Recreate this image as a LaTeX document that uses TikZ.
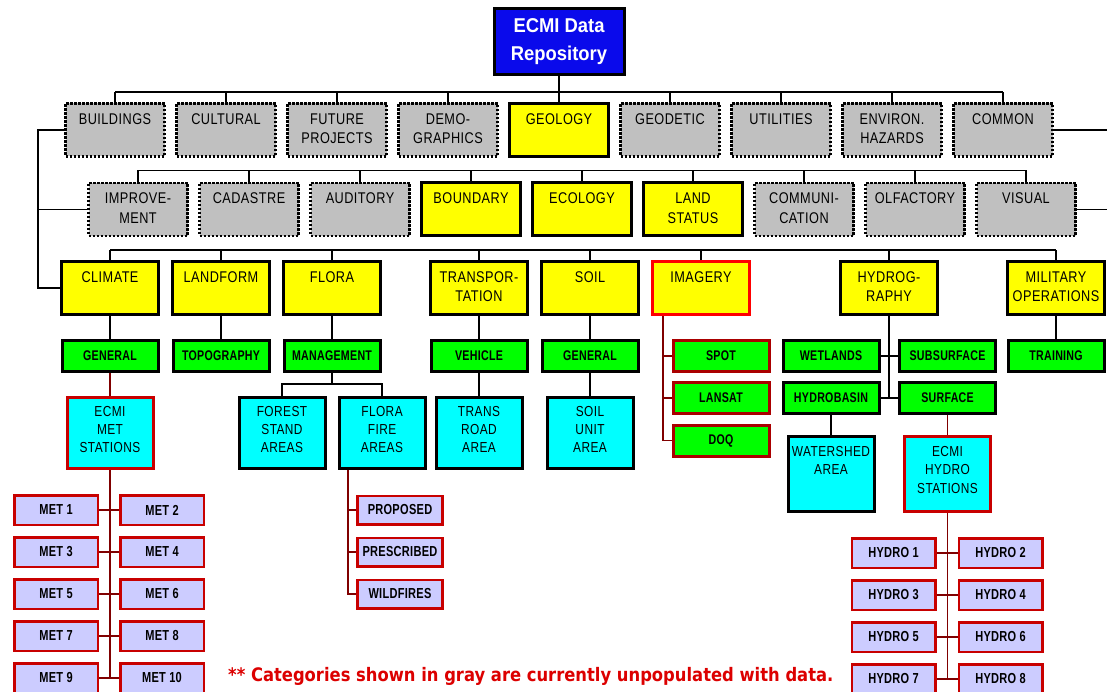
\documentclass[tikz,border=0pt]{standalone}
\usepackage{fontspec}
\setmainfont{Liberation Sans}[FakeStretch=0.82,LetterSpace=3]
\newfontfamily\rootfont{Liberation Sans}[FakeStretch=0.92]
\newfontfamily\layerfont{Liberation Sans}[FakeStretch=0.76,LetterSpace=2]
\newfontfamily\notefont{DejaVu Sans}[FakeStretch=0.88]
\usetikzlibrary{positioning}

\definecolor{ecmiblue}{RGB}{10,10,235}
\definecolor{boxgray}{RGB}{192,192,192}
\definecolor{boxyellow}{RGB}{255,255,0}
\definecolor{boxgreen}{RGB}{0,255,0}
\definecolor{boxcyan}{RGB}{0,255,255}
\definecolor{lavender}{RGB}{204,204,255}
\definecolor{stationred}{RGB}{200,0,0}
\definecolor{imgred}{RGB}{170,0,0}
\definecolor{linkred}{RGB}{128,0,0}
\definecolor{notered}{RGB}{220,0,0}

\begin{document}
\begin{tikzpicture}[x=1pt,y=-1pt,node distance=111pt,
    cbox/.style={rectangle,draw=black,line width=3pt,inner xsep=2pt,inner ysep=0pt,align=center},
    catb/.style={cbox,text width=95pt,text height=21pt,text depth=32pt,font=\fontsize{15.5}{19.3}\selectfont},
    grayb/.style={catb,fill=boxgray,line width=2.5pt,dash pattern=on 2.5pt off 1.5pt},
    yellowb/.style={catb,fill=boxyellow},
    themeb/.style={yellowb,text width=93pt},
    greenb/.style={cbox,fill=boxgreen,minimum width=96pt,minimum height=31pt,inner xsep=0pt,font=\layerfont\bfseries\fontsize{14}{16}\selectfont},
    cyanb/.style={cbox,fill=boxcyan,text width=82pt,text height=18.5pt,text depth=52.5pt,font=\fontsize{14.5}{18.3}\selectfont},
    pinkb/.style={cbox,fill=lavender,draw=stationred,line width=2.5pt,minimum width=83.5pt,minimum height=29.5pt,inner xsep=0pt,font=\layerfont\bfseries\fontsize{14.5}{16}\selectfont},
    link/.style={draw=black,line width=1.3pt},
    redlink/.style={link,draw=linkred}]
  \useasboundingbox (0,0) rectangle (1107,692);

  \node[cbox,fill=ecmiblue,minimum width=130pt,minimum height=66pt,inner sep=0pt,text=white,
        font=\rootfont\bfseries\fontsize{20}{28}\selectfont] (root) at (559,42) {ECMI Data\\Repository};

  % first level
  \node[grayb]   (bldg)     at (115,130)     {BUILDINGS};
  \node[grayb]   (cult)     [right of=bldg]  {CULTURAL};
  \node[grayb]   (future)   [right of=cult]  {FUTURE\\PROJECTS};
  \node[grayb]   (demo)     [right of=future]{DEMO-\\GRAPHICS};
  \node[yellowb] (geology)  [right of=demo]  {GEOLOGY};
  \node[grayb]   (geodetic) [right of=geology]{GEODETIC};
  \node[grayb]   (util)     [right of=geodetic]{UTILITIES};
  \node[grayb]   (environ)  [right of=util]  {ENVIRON.\\HAZARDS};
  \node[grayb]   (common)   [right of=environ]{COMMON};

  % second level
  \node[grayb]   (improve)  at (138,209.5)   {IMPROVE-\\MENT};
  \node[grayb]   (cadastre) [right of=improve]{CADASTRE};
  \node[grayb]   (auditory) [right of=cadastre]{AUDITORY};
  \node[yellowb] (boundary) [right of=auditory]{BOUNDARY};
  \node[yellowb] (ecology)  [right of=boundary]{ECOLOGY};
  \node[yellowb] (landst)   [right of=ecology]{LAND\\STATUS};
  \node[grayb]   (communi)  [right of=landst] {COMMUNI-\\CATION};
  \node[grayb]   (olfact)   [right of=communi]{OLFACTORY};
  \node[grayb]   (visual)   [right of=olfact] {VISUAL};

  % third level
  \node[themeb] (climate)   at (110,288)     {CLIMATE};
  \node[themeb] (landform)  [right of=climate]{LANDFORM};
  \node[themeb] (flora)     [right of=landform]{FLORA};
  \node[themeb] (transport) at (479,288)     {TRANSPOR-\\TATION};
  \node[themeb] (soil)      [right of=transport]{SOIL};
  \node[themeb,draw=red] (imagery) [right of=soil]{IMAGERY};
  \node[themeb] (hydrog)    at (889,288)     {HYDROG-\\RAPHY};
  \node[themeb] (military)  at (1056,288)    {MILITARY\\OPERATIONS};

  % green layers
  \node[greenb] (general)   at (110,356)     {GENERAL};
  \node[greenb] (topo)      [right of=general]{TOPOGRAPHY};
  \node[greenb] (mgmt)      [right of=topo]  {MANAGEMENT};
  \node[greenb] (vehicle)   at (479,356)     {VEHICLE};
  \node[greenb] (soilgen)   [right of=vehicle]{GENERAL};
  \node[greenb,draw=imgred] (spot)   at (721,356)  {SPOT};
  \node[greenb,draw=imgred] (lansat) at (721,398)  {LANSAT};
  \node[greenb,draw=imgred] (doq)    at (721,440.5){DOQ};
  \node[greenb] (wetlands)  at (831,356)     {WETLANDS};
  \node[greenb] (subsurf)   at (947.5,356)   {SUBSURFACE};
  \node[greenb] (hydrobasin) at (831,398)    {HYDROBASIN};
  \node[greenb] (surface)   at (947.5,398)   {SURFACE};
  \node[greenb] (training)  at (1056,356)    {TRAINING};

  % cyan areas
  \node[cyanb,draw=stationred] (metst) at (110,433) {ECMI\\MET\\STATIONS};
  \node[cyanb] (forest)     at (282,433)     {FOREST\\STAND\\AREAS};
  \node[cyanb] (firearea)   at (382,433)     {FLORA\\FIRE\\AREAS};
  \node[cyanb] (roadarea)   at (479,433)     {TRANS\\ROAD\\AREA};
  \node[cyanb] (soilarea)   at (590,433)     {SOIL\\UNIT\\AREA};
  \node[cyanb,text height=20pt,text depth=55pt] (watershed) at (831,474) {WATERSHED\\AREA};
  \node[cyanb,draw=stationred,text height=20pt,text depth=55pt] (hydrost) at (947.5,474) {ECMI\\HYDRO\\STATIONS};

  % fire types
  \node[pinkb,minimum width=85pt,minimum height=28.5pt] (proposed)   at (400,510) {PROPOSED};
  \node[pinkb,minimum width=85pt,minimum height=28.5pt] (prescribed) at (400,552) {PRESCRIBED};
  \node[pinkb,minimum width=85pt,minimum height=28.5pt] (wildfires)  at (400,594) {WILDFIRES};

  % stations
  \foreach \a/\b/\y in {1/2/510,3/4/552,5/6/594,7/8/636,9/10/678} {
    \node[pinkb] (met\a) at (56,\y)  {MET \a};
    \node[pinkb] (met\b) at (162,\y) {MET \b};
    \draw[redlink] (met\a.east) -- (met\b.west);
  }
  \foreach \a/\b/\y in {1/2/553,3/4/595,5/6/637,7/8/679} {
    \node[pinkb] (hydro\a) at (893.5,\y)  {HYDRO \a};
    \node[pinkb] (hydro\b) at (1000.5,\y) {HYDRO \b};
    \draw[redlink] (hydro\a.east) -- (hydro\b.west);
  }

  \node[anchor=base west,text=notered,inner sep=0pt,
        font=\notefont\bfseries\fontsize{18.6}{20}\selectfont] (note) at (228,681)
        {** Categories shown in gray are currently unpopulated with data.};

  % buses
  \coordinate (bus1) at (0,92);
  \coordinate (bus2) at (0,170.5);
  \coordinate (bus3) at (0,250);
  \coordinate (bus5) at (0,384);
  \coordinate (lft) at (38,0);
  \coordinate (rgt) at (1107,0);
  \coordinate (firex) at (348,0);
  \coordinate (imgx) at (663,0);

  \draw[link] (root) -- (geology);
  \draw[link] (bldg.north |- bus1) -- (common.north |- bus1);
  \foreach \n in {bldg,cult,future,demo,geodetic,util,environ,common}
    \draw[link] (\n.north) -- (\n.north |- bus1);
  \draw[link] (improve.north |- bus2) -- (visual.north |- bus2);
  \foreach \n in {improve,cadastre,auditory,boundary,ecology,landst,communi,olfact,visual}
    \draw[link] (\n.north) -- (\n.north |- bus2);
  \draw[link] (climate.north |- bus3) -- (military.north |- bus3);
  \foreach \n in {climate,landform,flora,transport,soil,imagery,hydrog,military}
    \draw[link] (\n.north) -- (\n.north |- bus3);

  \draw[link] (bldg.west) -- (bldg.west -| lft) |- (climate.west);
  \draw[link] (improve.west) -- (improve.west -| lft);
  \draw[link] (common.east) -- (common.east -| rgt);
  \draw[link] (visual.east) -- (visual.east -| rgt);

  \draw[link] (climate) -- (general);
  \draw[redlink] (general) -- (metst);
  \draw[redlink] (metst.south) -- (metst.south |- met9.east);
  \draw[link] (landform) -- (topo);
  \draw[link] (flora) -- (mgmt);
  \draw[link] (mgmt.south) -- (mgmt.south |- bus5);
  \draw[link] (forest.north) -- (forest.north |- bus5) -| (firearea.north);
  \draw[redlink] (firearea.south -| firex) |- (wildfires.west);
  \foreach \n in {proposed,prescribed}
    \draw[redlink] (\n.west -| firex) -- (\n.west);
  \draw[link] (transport) -- (vehicle) -- (roadarea);
  \draw[link] (soil) -- (soilgen) -- (soilarea);
  \draw[redlink] (imagery.south -| imgx) |- (doq.west);
  \foreach \n in {spot,lansat}
    \draw[redlink] (\n.west -| imgx) -- (\n.west);
  \draw[link] (hydrog.south) -- (hydrog.south |- hydrobasin.east);
  \draw[link] (wetlands.east) -- (subsurf.west);
  \draw[link] (hydrobasin.east) -- (surface.west);
  \draw[link] (hydrobasin) -- (watershed);
  \draw[redlink] (surface) -- (hydrost);
  \draw[redlink] (hydrost.south) -- (hydrost.south |- hydro7.east);
  \draw[link] (military) -- (training);
\end{tikzpicture}
\end{document}
